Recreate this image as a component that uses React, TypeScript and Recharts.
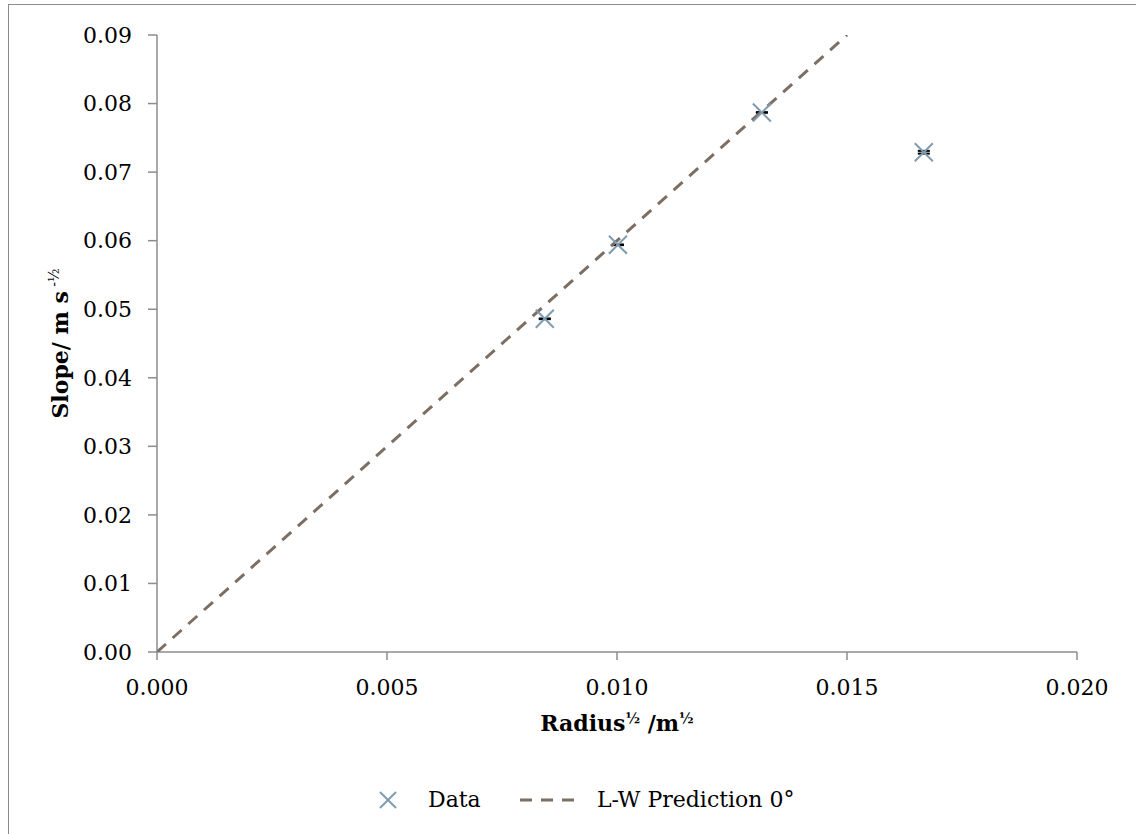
import { ScatterChart, Scatter, XAxis, YAxis, ErrorBar, Legend } from 'recharts'

// measured points: sqrt(radius) vs slope, with tiny y errors
const radiusRoot = [0.00843, 0.01002, 0.01315, 0.01667]
const slope = [0.0486, 0.0594, 0.0787, 0.0729]
const slopeErr = [0.00005, 0.00005, 0.00005, 0.0002]

// L-W prediction at 0 degrees (straight line through origin)
const predX = [0, 0.015]
const predY = [0, 0.09]

const xTicks = [0, 0.005, 0.01, 0.015, 0.02]
const yTicks = [0, 0.01, 0.02, 0.03, 0.04, 0.05, 0.06, 0.07, 0.08, 0.09]

const dataPts = radiusRoot.map((x, i) => ({ x, y: slope[i], err: slopeErr[i] }))
const predPts = predX.map((x, i) => ({ x, y: predY[i] }))

const FONT = '"DejaVu Serif", serif'
const AXIS = '#8c8c8c'
const MARK = '#7f9bb0'
const PRED = '#7d6e63'

const XMark = (props: any) => {
  const { cx, cy } = props
  const h = 9
  return (
    <g stroke={MARK} strokeWidth={2}>
      <line x1={cx - h} y1={cy - h} x2={cx + h} y2={cy + h} />
      <line x1={cx - h} y1={cy + h} x2={cx + h} y2={cy - h} />
    </g>
  )
}

const XTitle = (props: any) => {
  const vb = props.viewBox || {}
  const cx = vb.x + vb.width / 2
  return (
    <text x={cx} y={731} textAnchor="middle" fontFamily={FONT} fontSize={22} fontWeight="bold" fill="#000">
      Radius
      <tspan fontSize={14} dy={-8}>½</tspan>
      <tspan dy={8}> /m</tspan>
      <tspan fontSize={14} dy={-8}>½</tspan>
    </text>
  )
}

const YTitle = (props: any) => {
  const vb = props.viewBox || {}
  const cy = vb.y + vb.height / 2
  const x = 68
  return (
    <text x={x} y={cy} transform={`rotate(-90, ${x}, ${cy})`} textAnchor="middle"
      fontFamily={FONT} fontSize={22} fontWeight="bold" fill="#000">
      Slope/ m s
      <tspan fontSize={14} fontWeight="normal" dy={-9}> -½</tspan>
    </text>
  )
}

const LegendBox = () => (
  <svg width={1136} height={40} style={{ display: 'block' }}>
    <g stroke={MARK} strokeWidth={2}>
      <line x1={380} y1={12} x2={396} y2={28} />
      <line x1={380} y1={28} x2={396} y2={12} />
    </g>
    <text x={428} y={27} fontFamily={FONT} fontSize={22} fill="#000">Data</text>
    <line x1={520} y1={20} x2={577} y2={20} stroke={PRED} strokeWidth={3} strokeDasharray="12 9" />
    <text x={597} y={27} fontFamily={FONT} fontSize={22} fill="#000">L-W Prediction 0°</text>
  </svg>
)

export default function App() {
  return (
    <div style={{ position: 'fixed', left: 0, top: 0, width: 1136, height: 834, overflow: 'hidden', background: '#fff' }}>
      <div style={{ position: 'absolute', left: 8, top: 4, width: 1200, height: 900, border: `1px solid ${AXIS}` }} />
      <div style={{ position: 'absolute', left: 0, top: 0 }}>
        <ScatterChart width={1136} height={834} margin={{ top: 35, right: 59, left: 97, bottom: 92 }}>
          <XAxis type="number" dataKey="x" domain={[0, 0.02]} ticks={xTicks} allowDataOverflow
            tickFormatter={(v: number) => v.toFixed(3)} height={90}
            stroke={AXIS} strokeWidth={1.5} tickSize={8} tickMargin={19}
            tick={{ fontFamily: FONT, fontSize: 22, fill: '#000' }}
            label={{ content: XTitle }} />
          <YAxis type="number" dataKey="y" domain={[0, 0.09]} ticks={yTicks} allowDataOverflow
            tickFormatter={(v: number) => v.toFixed(2)} width={60}
            stroke={AXIS} strokeWidth={1.5} tickSize={9} tickMargin={16}
            tick={{ fontFamily: FONT, fontSize: 22, fill: '#000' }}
            label={{ content: YTitle }} />
          <Legend layout="horizontal" verticalAlign="middle" align="center"
            wrapperStyle={{ top: 780, left: 0, width: 1136 }} content={LegendBox} />
          <Scatter name="L-W Prediction 0°" data={predPts} legendType="none"
            line={{ stroke: PRED, strokeWidth: 3, strokeDasharray: '12 9' }}
            shape={() => <g />} isAnimationActive={false} />
          <Scatter name="Data" data={dataPts} shape={XMark} isAnimationActive={false}>
            <ErrorBar dataKey="err" direction="y" width={6} stroke="#000" strokeWidth={2} />
          </Scatter>
        </ScatterChart>
      </div>
    </div>
  )
}
